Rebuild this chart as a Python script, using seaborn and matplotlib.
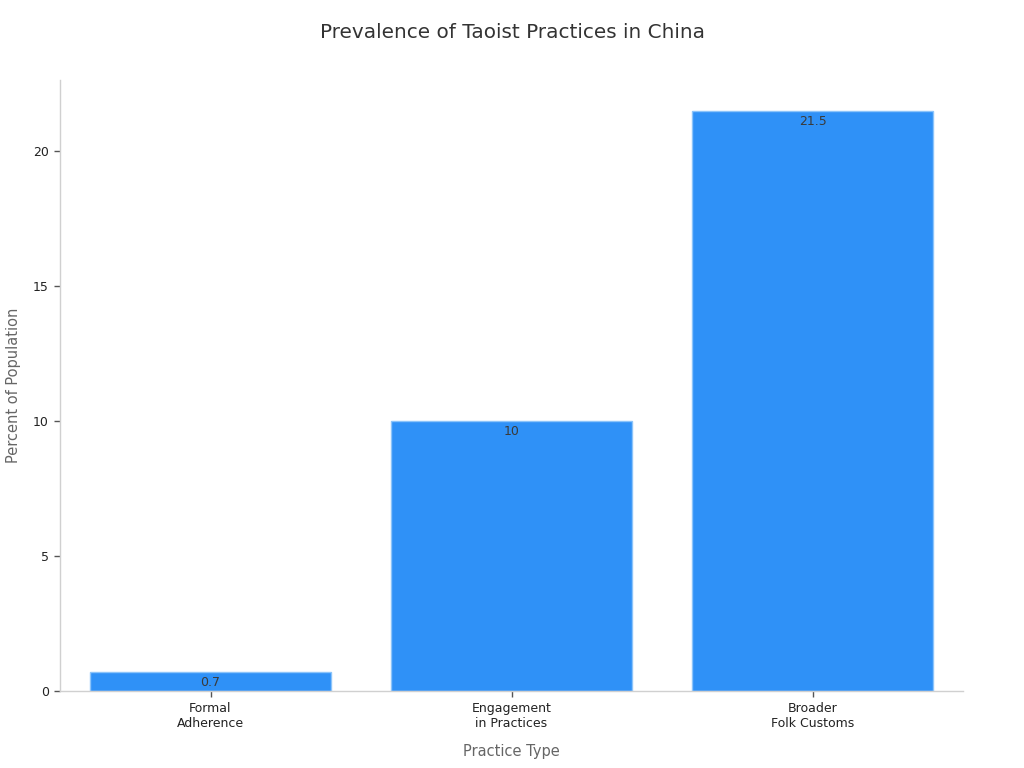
import matplotlib
matplotlib.use("Agg")
import matplotlib.pyplot as plt
import seaborn as sns
import pandas as pd

categories = ["Formal\nAdherence", "Engagement\nin Practices", "Broader\nFolk Customs"]
values = [0.7, 10, 21.5]
value_labels = ["0.7", "10", "21.5"]

sns.set_theme(style="white")
plt.rcParams['font.family'] = ['DejaVu Sans']

df = pd.DataFrame({"cat": categories, "val": values})

fig = plt.figure(figsize=(10.24, 7.68), dpi=100)
ax = fig.add_axes([60/1024, 1-691/768, 903/1024, 611/768])
sns.barplot(data=df, x="cat", y="val", color="#2F91F7", saturation=1,
            width=0.8, edgecolor="#8CC4FA", linewidth=1, ax=ax)

ax.set_xlim(-0.5, 2.5)
ax.set_ylim(0, 22.63)
ax.set_yticks([0, 5, 10, 15, 20])

for p, lab in zip(ax.patches, value_labels):
    ax.text(p.get_x() + p.get_width()/2, p.get_height() - 0.15, lab,
            ha="center", va="top", fontsize=9, color="#3a3a3a")

for s in ["top", "right"]:
    ax.spines[s].set_visible(False)
for s in ["left", "bottom"]:
    ax.spines[s].set_color("#d0d0d0")
    ax.spines[s].set_linewidth(1)

ax.tick_params(axis="both", which="both", length=4, width=1, color="#555555",
               labelsize=9, labelcolor="#222222", left=True, bottom=True, pad=4)
ax.set_xlabel("Practice Type", fontsize=10.5, color="#666666", labelpad=10)
ax.set_ylabel("Percent of Population", fontsize=10.5, color="#666666", labelpad=9)
fig.suptitle("Prevalence of Taoist Practices in China", fontsize=14.4, color="#333333", y=1-33/768, va="center")

fig.savefig("out.png", dpi=100)
